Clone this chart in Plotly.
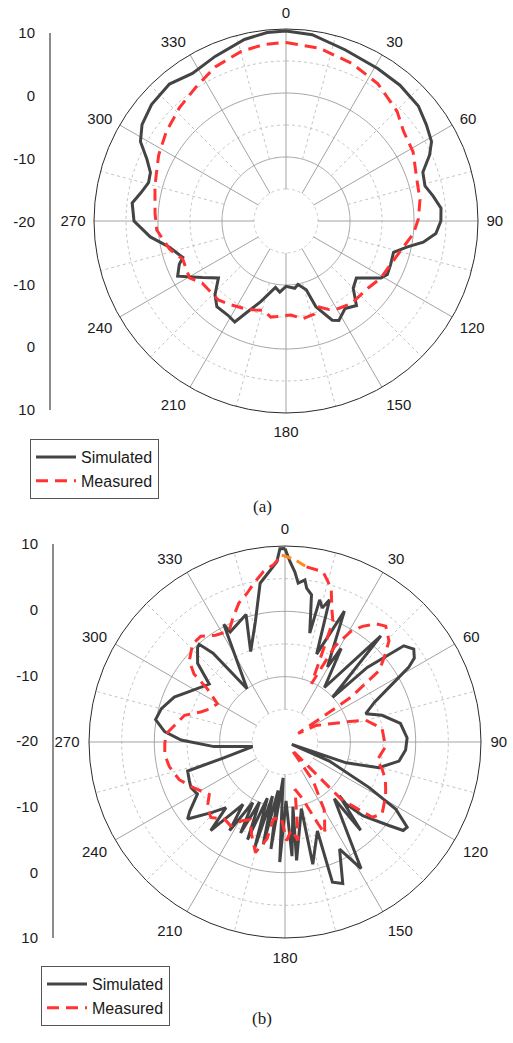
import numpy as np
import plotly.graph_objects as go

# ---------------- Pattern (a) ----------------
sim_a_theta = [0, 8, 19, 31, 40, 49, 55.5, 61.4, 65.3, 70.4, 75.8, 80.3, 85.3, 90, 94.8, 98.8,
               102.2, 106.2, 112.5, 117.8, 121, 129, 135, 140.2, 146, 152, 155, 160.8, 163.6,
               169.3, 172.6, 180, 185, 189, 197.4, 202.9, 206.9, 211.6, 218.9, 223.9, 229.9,
               236, 243, 247.9, 250.5, 257.3, 263.3, 270, 276.7, 281, 285.6, 289.7, 294, 298.6,
               303.8, 310.9, 319.6, 327.6, 336.7, 347.1, 354.3, 360]
sim_a_db = [9.7, 9.4, 8.3, 7.8, 7.7, 7.4, 6.6, 5.9, 4.7, 2.7, 2.4, 3.3, 4.3, 4.2, 3.5, 1.7,
            -0.7, -2.5, -2.3, -2.1, -2.7, -5.85, -5.15, -2.8, -3.5, -2.4, -2.9, -5.8, -8.8,
            -9.9, -9.4, -9.8, -8.85, -9.5, -6.8, -4.6, -2.3, -2.7, -2.8, -4.0, -6.2,
            -4.2, -1.0, -2.0, -2.9, -1.35, 1.35, 3.75, 4.2, 3.1, 2.3, 2.5, 3.8, 5.9,
            7.07, 7.8, 8.1, 7.3, 8.0, 9.1, 9.6, 9.7]

meas_a_theta = [0, 10.9, 22.6, 33.8, 45.3, 52.7, 61.5, 72.3, 80.9, 89, 95.7, 104.5, 112.5, 121,
                129.4, 141.5, 149, 154, 158.9, 163, 170.2, 177, 185.4, 189, 194, 198.8, 204,
                213, 220.6, 233.5, 239.5, 249.7, 256.4, 266, 273.4, 285, 297.3, 306.8, 316.8,
                326, 335.3, 345.2, 352.9, 360]
meas_a_db = [7.9, 7.5, 6.7, 5.8, 4.4, 3.1, 2.6, 1.45, 1.2, 0.7, 0.0, -1.5, -2.3, -2.7,
             -3.45, -3.55, -4.05, -4.6, -5.6, -4.8, -4.5, -5.3, -5.0, -4.8, -5.6, -5.3, -4.9,
             -4.35, -3.75, -3.7, -2.5, -2.8, -1.3, 0.25, 0.5, 1.2, 2.4, 3.35, 4.3,
             5.2, 6.5, 7.4, 7.8, 7.9]

# ---------------- Pattern (b) ----------------
sim_b_theta = [0, 1.6, 3.3, 4.75, 7.0, 8.0, 10.2, 12.8, 13.7, 15.5, 17.4, 19.8, 24.4, 29.5, 31.0,
               35.9, 42.1, 46.8, 47.8, 51.0, 54.2, 57.0, 58.9, 61.6, 66.0, 70.7, 74.6, 80.9,
               88.1, 93.8, 99.5, 105.3, 108.8, 109.5, 113.3, 118.4, 121.2, 124.9, 126.8, 128.8,
               133.5, 135.5, 134.7, 139.4, 139.0, 149.0, 153.0, 157.8, 161.3, 160.0, 167.2,
               166.2, 174.4, 173.0, 176.5, 179.0, 182.5, 183.0, 187.5, 188.0, 192.0, 193.0,
               196.0, 197.5, 201.0, 203.0, 206.0, 208.0, 212.0, 214.0, 220.0, 222.0, 226.0,
               231.7, 234.0, 239.2, 244.0, 247.9, 253.4, 255.5, 262.0, 266.3, 271.1, 274.9,
               279.8, 285.1, 292.1, 298.0, 307.4, 312.0, 317.2, 318.7, 321.0, 324.5, 332.5,
               333.5, 343.0, 339.2, 346.2, 351.1, 357.4, 358.5, 360]
sim_b_db = [9.6, 7.6, 6.1, 4.4, 5.0, 3.8, 2.9, -2.9, 2.4, 1.3, 2.8, -5.7, 2.0, -6.8, -3.3,
            -9.7, 1.9, -10.0, -3.0, 3.4, 4.3, 3.6, 2.1, -1.3, -5.0, -6.9, -4.6, -2.1,
            -1.3, -1.5, -2.3, -5.1, -10.1, -18.9, -12.6, -5.4, -0.2, 2.8, 2.6, 0.4,
            -3.6, -6.7, -8.3, -2.2, -8.5, 2.6, -1.6, 3.4, 2.65, -5.5, -0.8,
            -9.5, -1.8, -10.0, -2.5, -11.0, -1.6, -14.5, -3.5, -12.5, -4.0, -11.5,
            -3.2, -11.0, -4.0, -10.0, -4.5, -9.5, -4.0, -8.5, -2.3, -6.5, -4.5,
            -1.0, -2.0, -4.4, -4.0, -4.2, -4.45, -10.3, -15.0, -9.1, -4.1, -1.5,
            0.1, -0.4, -1.7, -3.5, -5.4, -2.0, -0.3, -0.1, -2.5, -10.0, 0.3,
            -1.2, 0.4, -5.2, -1.0, 4.6, 7.6, 9.6, 9.6]

meas_b_theta = [-1, 3, 7, 12.6, 16.7, 19.5, 21.6, 22.4, 24.4, 27.5, 30.8, 33.8, 37.5, 41, 45.8,
                49.5, 52.8, 55.8, 56, 57, 62, 71.75, 74.9, 82.1, 92.6, 100.9, 106, 110.5,
                114.3, 118.3, 126.6, 130.7, 134, 135.5, 139, 144, 150, 153.3, 156.6, 158,
                163, 168.2, 170.7, 172.4, 176, 179, 183, 188.5, 190.6, 195, 200, 204, 208.5,
                213, 218, 224.5, 230, 235.3, 243.2, 250.4, 258, 264, 269.4, 274.1, 279, 284.9,
                289.6, 294, 299.5, 304.4, 306.8, 310.3, 316.6, 321.5, 327, 333.2, 337, 341.6,
                345.7, 349, 352.8, 356.3, 359]
meas_b_db = [8.6, 8.0, 7.0, 6.7, 4.6, 1.5, -0.1, -4.1, -10.2, -3.5, -0.25, 1.3, 2.8, 3.5, 2.2,
             0.0, -1.9, -7.8, -10.5, -17.6, -14.6, -10.2, -7.2, -5.0, -4.6, -5.6, -4.5, -3.6,
             -3.1, -2.5, -1.5, -2.35, -6.3, -7.75, -18.5, -12.7, -8.0, -6.5, -4.7, -6.5,
             -11.0, -12.6, -9.0, -4.8, -6.5, -4.9, -8.5, -8.05, -4.9, -2.5, -5.0, -7.0, -6.3,
             -4.7, -5.0, -3.8, -4.5, -5.9, -4.4, -2.8, -1.9, -1.5, -1.6, -1.8, -3.0, -4.1,
             -6.3, -7.5, -8.1, -5.6, -2.6, -0.8, 0.6, 0.7, -0.5, -1.0, 0.5, 2.4,
             3.5, 4.8, 6.3, 7.2, 8.6]
ORANGE_END = 3  # first points of the measured sweep drawn in orange

angle_ticks = list(range(0, 360, 30))
left_tick_vals = [3, 2, 1, 0, -1, -2, -3]
left_tick_text = ['10', '0', '-10', '-20', '-10', '0', '10']
series_names = ['Simulated', 'Measured']

W, H = 513, 1043
FONT = 'Liberation Sans, Arial, sans-serif'
SIM_COLOR = '#444444'
MEAS_COLOR = '#ff3333'
GRID_SOLID = '#a3a3a3'
GRID_DOT = '#c4c4c4'


def grid_traces(subplot):
    """Rings and spokes of the radar-style grid."""
    traces = []
    ring_theta = np.linspace(0, 360, 361)
    for level, dotted in [(-15, True), (-10, False), (-5, True), (0, False), (5, True)]:
        traces.append(go.Scatterpolar(
            r=[level] * len(ring_theta), theta=ring_theta, mode='lines', subplot=subplot,
            line=dict(color=GRID_DOT if dotted else GRID_SOLID, width=1,
                      dash='dot' if dotted else 'solid'),
            showlegend=False, hoverinfo='skip'))
    for a in range(0, 360, 30):
        traces.append(go.Scatterpolar(
            r=[-15, 10], theta=[a, a], mode='lines', subplot=subplot,
            line=dict(color=GRID_SOLID, width=1), showlegend=False, hoverinfo='skip'))
    for a in range(15, 360, 30):
        traces.append(go.Scatterpolar(
            r=[-10, 10], theta=[a, a], mode='lines', subplot=subplot,
            line=dict(color=GRID_DOT, width=1, dash='dot'), showlegend=False, hoverinfo='skip'))
    return traces


fig = go.Figure()

for t in grid_traces('polar') + grid_traces('polar2'):
    fig.add_trace(t)

# pattern (a)
fig.add_trace(go.Scatterpolar(r=sim_a_db, theta=sim_a_theta, mode='lines', subplot='polar',
                              name=series_names[0], legend='legend',
                              line=dict(color=SIM_COLOR, width=3)))
fig.add_trace(go.Scatterpolar(r=meas_a_db + [meas_a_db[0]], theta=meas_a_theta + [meas_a_theta[0]],
                              mode='lines', subplot='polar', name=series_names[1], legend='legend',
                              line=dict(color=MEAS_COLOR, width=3, dash='12px,7px')))

# pattern (b)
fig.add_trace(go.Scatterpolar(r=sim_b_db, theta=sim_b_theta, mode='lines', subplot='polar2',
                              name=series_names[0], legend='legend2',
                              line=dict(color=SIM_COLOR, width=3)))
fig.add_trace(go.Scatterpolar(r=meas_b_db[ORANGE_END - 1:], theta=meas_b_theta[ORANGE_END - 1:],
                              mode='lines', subplot='polar2', name=series_names[1], legend='legend2',
                              line=dict(color=MEAS_COLOR, width=3, dash='12px,7px')))
fig.add_trace(go.Scatterpolar(r=meas_b_db[:ORANGE_END], theta=meas_b_theta[:ORANGE_END],
                              mode='lines', subplot='polar2', showlegend=False,
                              line=dict(color='#ff8c1a', width=3, dash='10px,6px')))

# placeholders so the side scales get drawn
fig.add_trace(go.Scatter(x=[0], y=[0], xaxis='x', yaxis='y', mode='markers',
                         marker=dict(opacity=0), showlegend=False, hoverinfo='skip'))
fig.add_trace(go.Scatter(x=[0], y=[0], xaxis='x2', yaxis='y2', mode='markers',
                         marker=dict(opacity=0), showlegend=False, hoverinfo='skip'))


def polar_layout(cx, cy, R, ticklen):
    return dict(
        domain=dict(x=[(cx - R) / W, (cx + R) / W], y=[1 - (cy + R) / H, 1 - (cy - R) / H]),
        bgcolor='white',
        radialaxis=dict(range=[-20, 10], visible=False, showgrid=False),
        angularaxis=dict(rotation=90, direction='clockwise', tickmode='array',
                         tickvals=angle_ticks, ticktext=[str(a) for a in angle_ticks],
                         showgrid=False, showline=True, linecolor='#2b2b2b', linewidth=1,
                         ticks='outside', ticklen=ticklen, tickcolor='rgba(0,0,0,0)',
                         tickfont=dict(family=FONT, size=15, color='#1a1a1a')),
    )


def side_axis(x_px, y_top, y_bot, anchor):
    xa = dict(domain=[x_px / W, (x_px + 10) / W], visible=False, range=[0, 1],
              anchor='y' + anchor, automargin=False)
    ya = dict(domain=[1 - y_bot / H, 1 - y_top / H], range=[-3, 3], tickmode='array',
              tickvals=left_tick_vals, ticktext=left_tick_text, showline=True,
              linecolor='#8c8c8c', linewidth=2, showgrid=False, zeroline=False, ticks='',
              ticklabelstandoff=11, automargin=False, anchor='x' + anchor,
              tickfont=dict(family=FONT, size=15, color='#1a1a1a'))
    return xa, ya


xa1, ya1 = side_axis(51, 33, 410, '')
xa2, ya2 = side_axis(54, 544, 938, '2')

legend_style = dict(xanchor='left', yanchor='top', bgcolor='white', bordercolor='#555555',
                    borderwidth=1, font=dict(family=FONT, size=16, color='#1a1a1a'),
                    tracegroupgap=0, itemwidth=40)

fig.update_layout(
    width=W, height=H, margin=dict(l=0, r=0, t=0, b=0, pad=0, autoexpand=False),
    paper_bgcolor='white', plot_bgcolor='white',
    polar=polar_layout(286, 221, 192, 5),
    polar2=polar_layout(285, 742, 196, 6),
    xaxis=xa1, yaxis=ya1, xaxis2=xa2, yaxis2=ya2,
    legend=dict(x=30 / W, y=1 - 439 / H, **legend_style),
    legend2=dict(x=41 / W, y=1 - 966 / H, **legend_style),
    annotations=[
        dict(text='(a)', x=262 / W, y=1 - 506 / H, xref='paper', yref='paper', showarrow=False,
             font=dict(family='Liberation Serif, Times New Roman, serif', size=17, color='#1a1a1a')),
        dict(text='(b)', x=262 / W, y=1 - 1030 / H, xref='paper', yref='paper', showarrow=False,
             font=dict(family='Liberation Serif, Times New Roman, serif', size=17, color='#1a1a1a')),
    ],
)

fig.write_html('out.html')
